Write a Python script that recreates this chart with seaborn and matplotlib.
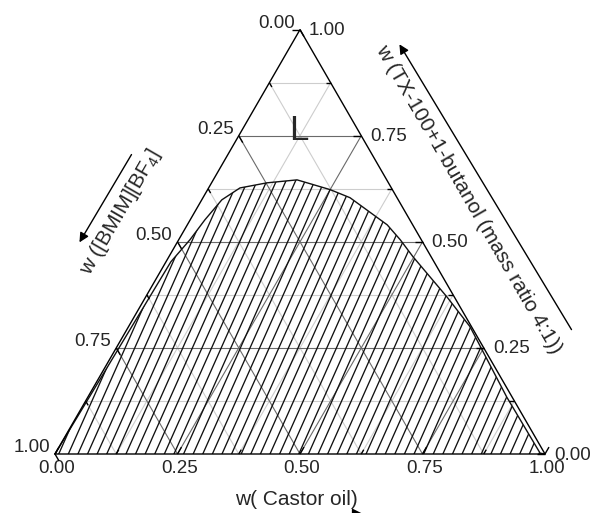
import numpy as np
import matplotlib.pyplot as plt
import seaborn as sns
from matplotlib.collections import LineCollection
from matplotlib.patches import Polygon

sns.set_style("white")
plt.rcParams["font.family"] = ["Liberation Sans", "DejaVu Sans"]
plt.rcParams["mathtext.fontset"] = "custom"
plt.rcParams["mathtext.rm"] = "Liberation Sans"

# Boundary of the two-phase (hatched) region, mass fractions
castor_b = [0.0, 0.010, 0.023, 0.030, 0.041, 0.064, 0.113, 0.171, 0.202, 0.250,
            0.300, 0.349, 0.408, 0.452, 0.498, 0.615, 0.697, 0.855, 0.989, 1.0]
tx_b = [0.0, 0.453, 0.505, 0.552, 0.599, 0.627, 0.639, 0.646, 0.637, 0.623,
        0.604, 0.575, 0.540, 0.505, 0.465, 0.370, 0.300, 0.134, 0.002, 0.0]

tick_vals = [0.0, 0.25, 0.5, 0.75, 1.0]
tick_labels = ["0.00", "0.25", "0.50", "0.75", "1.00"]
major = [0.25, 0.5, 0.75]
minor = [0.125, 0.375, 0.625, 0.875]

S = np.sqrt(3) / 2
PX = 1 / 490  # one pixel in data units


def cart(c, t):
    # castor, TX fractions -> cartesian (BMIM = 1 - c - t)
    c = np.asarray(c, float)
    t = np.asarray(t, float)
    return c + t / 2, t * S


fig = plt.figure(figsize=(5.9, 5.13), dpi=100)
ax = fig.add_axes([0, 0, 1, 1])
ax.set_xlim(-55 * PX, 535 * PX)
ax.set_ylim((454 - 513) * PX, 454 * PX)
ax.axis("off")


# Grid lines
def grid_segs(fracs):
    segs = []
    for f in fracs:
        # constant TX (horizontal)
        segs.append([cart(0, f), cart(1 - f, f)])
        # constant castor (parallel to left edge)
        segs.append([cart(f, 0), cart(f, 1 - f)])
        # constant BMIM (parallel to right edge)
        segs.append([cart(1 - f, 0), cart(0, 1 - f)])
    return segs


ax.add_collection(LineCollection(grid_segs(minor), colors="#cdcdcd", linewidths=0.8, zorder=1))
ax.add_collection(LineCollection(grid_segs(major), colors="#6a6a6a", linewidths=0.8, zorder=1))

# Hatched two-phase region
bx, by = cart(castor_b, tx_b)
region = Polygon(np.column_stack([bx, by]), closed=True, facecolor="none", edgecolor="none")
ax.add_patch(region)
cot = 1 / np.tan(np.radians(66))
hatch = []
for x0 in np.arange(-0.6, 1.05, 0.0196):
    hatch.append([(x0 - 0.05 * cot, -0.05), (x0 + 0.95 * cot, 0.95)])
hc = LineCollection(hatch, colors="#111111", linewidths=0.95, zorder=2)
ax.add_collection(hc)
hc.set_clip_path(region)

sns.lineplot(x=bx, y=by, sort=False, color="#111111", linewidth=1.0, ax=ax, zorder=3)

# Triangle
tri_x, tri_y = cart([0, 1, 0, 0], [0, 0, 1, 0])
ax.plot(tri_x, tri_y, color="black", linewidth=1.0, zorder=4)

# Ticks (inward)
tick_segs = []
for f in tick_vals + minor:
    L = (8 if f in tick_vals else 5) * PX
    # bottom axis: along castor grid direction
    x, y = cart(f, 0)
    tick_segs.append([(x, y), (x + L * 0.5, y + L * S)])
    # left axis (BMIM): along BMIM grid direction
    x, y = cart(0, 1 - f)
    tick_segs.append([(x, y), (x + L * 0.5, y - L * S)])
    # right axis (TX): horizontal
    x, y = cart(1 - f, f)
    tick_segs.append([(x, y), (x - L, y)])
ax.add_collection(LineCollection(tick_segs, colors="black", linewidths=1.0, zorder=4))

# Tick labels
fs = 13.5
for v, lab in zip(tick_vals, tick_labels):
    x, y = cart(v, 0)
    ax.text(x + 2 * PX, y - 19 * PX, lab, ha="center", va="baseline", fontsize=fs)
    x, y = cart(0, 1 - v)
    ax.text(x - 5 * PX, y + 2 * PX, lab, ha="right", va="baseline", fontsize=fs)
    x, y = cart(1 - v, v)
    ax.text(x + 9 * PX, y - 5.5 * PX, lab, ha="left", va="baseline", fontsize=fs)

# Axis titles and arrows
ax.text(0.492, -0.104, "w( Castor oil)", ha="center", va="baseline", fontsize=15)
ax.annotate("", xy=(368 * PX - 55 * PX, -0.1245), xytext=(200 * PX - 55 * PX, -0.1245),
            arrowprops=dict(arrowstyle="-|>", color="black", lw=1.0, mutation_scale=20),
            annotation_clip=False)

ax.text(0.845, 0.520, "w (TX-100+1-butanol (mass ratio 4:1))", rotation=-60,
        rotation_mode="anchor", ha="center", va="center", fontsize=15)
ax.annotate("", xy=(0.700, 0.841), xytext=(1.057, 0.249),
            arrowprops=dict(arrowstyle="-|>", color="black", lw=1.0, mutation_scale=14))

ax.text(0.133, 0.494, r"w ([BMIM][BF$_\mathregular{4}$]", rotation=60,
        rotation_mode="anchor", ha="center", va="center", fontsize=15)
ax.annotate("", xy=(0.047, 0.427), xytext=(0.159, 0.616),
            arrowprops=dict(arrowstyle="-|>", color="black", lw=1.0, mutation_scale=14))

# Phase label
ax.text(0.498, 0.661, "L", ha="center", va="center", fontsize=25)

fig.savefig("out.png", dpi=100)
